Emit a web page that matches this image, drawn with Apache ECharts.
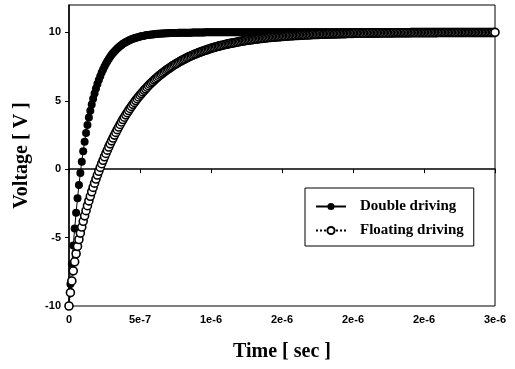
<!DOCTYPE html>
<html>
<head>
<meta charset="utf-8">
<script src="https://cdn.jsdelivr.net/npm/echarts@6/dist/echarts.min.js"></script>
<style>
  html, body { margin: 0; padding: 0; background: #fff; }
  #chart { width: 515px; height: 369px; }
</style>
</head>
<body>
<div id="chart"></div>
<script>
// sample times in ns (converted to seconds below)
const sampleTimeNs = [
  0, 10, 20, 30, 40, 50, 60, 70, 80, 90, 100, 110, 120, 130, 140, 150, 160, 170, 180, 190,
  200, 210, 220, 230, 240, 250, 260, 270, 280, 290, 300, 310, 320, 330, 340, 350, 360, 370, 380, 390,
  400, 410, 420, 430, 440, 450, 460, 470, 480, 490, 500, 510, 520, 530, 540, 550, 560, 570, 580, 590,
  600, 610, 620, 630, 640, 650, 660, 670, 680, 690, 700, 710, 720, 730, 740, 750, 760, 770, 780, 790,
  800, 810, 820, 830, 840, 850, 860, 870, 880, 890, 900, 910, 920, 930, 940, 950, 960, 970, 980, 990,
  1000, 1010, 1020, 1030, 1040, 1050, 1060, 1070, 1080, 1090, 1100, 1110, 1120, 1130, 1140, 1150, 1160, 1170, 1180, 1190,
  1200, 1210, 1220, 1230, 1240, 1250, 1260, 1270, 1280, 1290, 1300, 1310, 1320, 1330, 1340, 1350, 1360, 1370, 1380, 1390,
  1400, 1410, 1420, 1430, 1440, 1450, 1460, 1470, 1480, 1490, 1500, 1510, 1520, 1530, 1540, 1550, 1560, 1570, 1580, 1590,
  1600, 1610, 1620, 1630, 1640, 1650, 1660, 1670, 1680, 1690, 1700, 1710, 1720, 1730, 1740, 1750, 1760, 1770, 1780, 1790,
  1800, 1810, 1820, 1830, 1840, 1850, 1860, 1870, 1880, 1890, 1900, 1910, 1920, 1930, 1940, 1950, 1960, 1970, 1980, 1990,
  2000, 2010, 2020, 2030, 2040, 2050, 2060, 2070, 2080, 2090, 2100, 2110, 2120, 2130, 2140, 2150, 2160, 2170, 2180, 2190,
  2200, 2210, 2220, 2230, 2240, 2250, 2260, 2270, 2280, 2290, 2300, 2310, 2320, 2330, 2340, 2350, 2360, 2370, 2380, 2390,
  2400, 2410, 2420, 2430, 2440, 2450, 2460, 2470, 2480, 2490, 2500, 2510, 2520, 2530, 2540, 2550, 2560, 2570, 2580, 2590,
  2600, 2610, 2620, 2630, 2640, 2650, 2660, 2670, 2680, 2690, 2700, 2710, 2720, 2730, 2740, 2750, 2760, 2770, 2780, 2790,
  2800, 2810, 2820, 2830, 2840, 2850, 2860, 2870, 2880, 2890, 2900, 2910, 2920, 2930, 2940, 2950, 2960, 2970, 2980, 2990,
  3000
];

// Voltage [V], one value per sample time
const doubleDriving = [
  -10, -8.40, -6.93, -5.58, -4.33, -3.18, -2.13, -1.16, -0.27, 0.55, 1.31, 2.00,
  2.64, 3.23, 3.77, 4.27, 4.73, 5.15, 5.54, 5.89, 6.22, 6.52, 6.80, 7.06,
  7.29, 7.51, 7.71, 7.89, 8.06, 8.22, 8.36, 8.49, 8.61, 8.72, 8.82, 8.92,
  9.00, 9.08, 9.16, 9.22, 9.29, 9.34, 9.40, 9.44, 9.49, 9.53, 9.57, 9.60,
  9.63, 9.66, 9.69, 9.71, 9.74, 9.76, 9.78, 9.80, 9.81, 9.83, 9.84, 9.85,
  9.87, 9.88, 9.89, 9.90, 9.90, 9.91, 9.92, 9.92, 9.93, 9.94, 9.94, 9.95,
  9.95, 9.95, 9.96, 9.96, 9.96, 9.97, 9.97, 9.97, 9.97, 9.98, 9.98, 9.98,
  9.98, 9.98, 9.98, 9.99, 9.99, 9.99, 9.99, 9.99, 9.99, 9.99, 9.99, 9.99,
  10, 10, 10, 10, 10, 10, 10, 10, 10, 10, 10, 10, 10, 10, 10, 10, 10, 10, 10, 10,
  10, 10, 10, 10, 10, 10, 10, 10, 10, 10, 10, 10, 10, 10, 10, 10, 10, 10, 10, 10,
  10, 10, 10, 10, 10, 10, 10, 10, 10, 10, 10, 10, 10, 10, 10, 10, 10, 10, 10, 10,
  10, 10, 10, 10, 10, 10, 10, 10, 10, 10, 10, 10, 10, 10, 10, 10, 10, 10, 10, 10,
  10, 10, 10, 10, 10, 10, 10, 10, 10, 10, 10, 10, 10, 10, 10, 10, 10, 10, 10, 10,
  10, 10, 10, 10, 10, 10, 10, 10, 10, 10, 10, 10, 10, 10, 10, 10, 10, 10, 10, 10,
  10, 10, 10, 10, 10, 10, 10, 10, 10, 10, 10, 10, 10, 10, 10, 10, 10, 10, 10, 10,
  10, 10, 10, 10, 10, 10, 10, 10, 10, 10, 10, 10, 10, 10, 10, 10, 10, 10, 10, 10,
  10, 10, 10, 10, 10, 10, 10, 10, 10, 10, 10, 10, 10, 10, 10, 10, 10, 10, 10, 10,
  10, 10, 10, 10, 10, 10, 10, 10, 10, 10, 10, 10, 10, 10, 10, 10, 10, 10, 10, 10,
  10, 10, 10, 10, 10
];

const floatingDriving = [
  -10, -9.02, -8.17, -7.43, -6.77, -6.18, -5.64, -5.14, -4.67, -4.23,
  -3.81, -3.41, -3.03, -2.67, -2.32, -1.98, -1.65, -1.33, -1.02, -0.72,
  -0.43, -0.15, 0.13, 0.40, 0.65, 0.91, 1.15, 1.39, 1.62, 1.85,
  2.07, 2.28, 2.49, 2.69, 2.89, 3.08, 3.27, 3.45, 3.63, 3.80,
  3.97, 4.13, 4.29, 4.44, 4.59, 4.74, 4.88, 5.02, 5.15, 5.28,
  5.41, 5.53, 5.65, 5.77, 5.88, 5.99, 6.10, 6.21, 6.31, 6.41,
  6.51, 6.60, 6.69, 6.78, 6.87, 6.95, 7.03, 7.11, 7.19, 7.27,
  7.34, 7.41, 7.48, 7.55, 7.62, 7.68, 7.74, 7.80, 7.86, 7.92,
  7.98, 8.03, 8.08, 8.14, 8.19, 8.24, 8.28, 8.33, 8.37, 8.42,
  8.46, 8.50, 8.54, 8.58, 8.62, 8.66, 8.69, 8.73, 8.76, 8.80,
  8.83, 8.86, 8.89, 8.92, 8.95, 8.98, 9.01, 9.03, 9.06, 9.08,
  9.11, 9.13, 9.16, 9.18, 9.20, 9.22, 9.24, 9.26, 9.28, 9.30,
  9.32, 9.34, 9.36, 9.38, 9.39, 9.41, 9.42, 9.44, 9.46, 9.47,
  9.48, 9.50, 9.51, 9.52, 9.54, 9.55, 9.56, 9.57, 9.59, 9.60,
  9.61, 9.62, 9.63, 9.64, 9.65, 9.66, 9.67, 9.68, 9.68, 9.69,
  9.70, 9.71, 9.72, 9.72, 9.73, 9.74, 9.75, 9.75, 9.76, 9.77,
  9.77, 9.78, 9.78, 9.79, 9.80, 9.80, 9.81, 9.81, 9.82, 9.82,
  9.83, 9.83, 9.84, 9.84, 9.84, 9.85, 9.85, 9.86, 9.86, 9.86,
  9.87, 9.87, 9.88, 9.88, 9.88, 9.89, 9.89, 9.89, 9.89, 9.90,
  9.90, 9.90, 9.91, 9.91, 9.91, 9.91, 9.92, 9.92, 9.92, 9.92,
  9.92, 9.93, 9.93, 9.93, 9.93, 9.93, 9.94, 9.94, 9.94, 9.94,
  9.94, 9.94, 9.95, 9.95, 9.95, 9.95, 9.95, 9.95, 9.95, 9.95,
  9.96, 9.96, 9.96, 9.96, 9.96, 9.96, 9.96, 9.96, 9.96, 9.97,
  9.97, 9.97, 9.97, 9.97, 9.97, 9.97, 9.97, 9.97, 9.97, 9.97,
  9.97, 9.98, 9.98, 9.98, 9.98, 9.98, 9.98, 9.98, 9.98, 9.98,
  9.98, 9.98, 9.98, 9.98, 9.98, 9.98, 9.98, 9.98, 9.98, 9.98,
  9.99, 9.99, 9.99, 9.99, 9.99, 9.99, 9.99, 9.99, 9.99, 9.99,
  9.99, 9.99, 9.99, 9.99, 9.99, 9.99, 9.99, 9.99, 9.99, 9.99,
  9.99, 9.99, 9.99, 9.99, 9.99, 9.99, 9.99, 9.99, 9.99, 9.99,
  9.99, 9.99, 9.99, 9.99, 9.99, 9.99, 9.99, 9.99, 9.99, 9.99,
  10
];

// the original axis rounds 1.5e-6 and 2.5e-6 to "2e-6"
const xTickLabels = ['0', '5e-7', '1e-6', '2e-6', '2e-6', '2e-6', '3e-6'];
const xTickStep = 5e-7;

const toPairs = (values) => values.map((v, i) => [sampleTimeNs[i] * 1e-9, v]);

const chart = echarts.init(document.getElementById('chart'), null, { renderer: 'canvas' });

const tickFont = {
  color: '#000',
  fontFamily: '"Liberation Sans", Arial, sans-serif',
  fontWeight: 'bold',
  fontSize: 11
};
const nameFont = {
  color: '#000',
  fontFamily: '"Liberation Serif", "Times New Roman", serif',
  fontWeight: 'bold',
  fontSize: 20
};

const option = {
  backgroundColor: '#fff',
  animation: false,
  grid: {
    left: 69,
    right: 20,
    top: 5,
    bottom: 63,
    show: true,
    borderColor: '#000',
    borderWidth: 1,
    containLabel: false
  },
  legend: {
    orient: 'vertical',
    left: 305,
    top: 188,
    padding: [11, 10, 8, 10],
    itemGap: 9,
    itemWidth: 30,
    itemHeight: 9,
    backgroundColor: '#fff',
    borderColor: '#000',
    borderWidth: 1,
    textStyle: {
      color: '#000',
      fontFamily: '"Liberation Serif", "Times New Roman", serif',
      fontWeight: 'bold',
      fontSize: 15,
      padding: [0, 0, 0, 9]
    },
    data: ['Double driving', 'Floating driving']
  },
  xAxis: {
    type: 'value',
    min: 0,
    max: 3e-6,
    interval: xTickStep,
    name: 'Time [ sec ]',
    nameLocation: 'middle',
    nameGap: 36,
    nameTextStyle: nameFont,
    axisLine: { lineStyle: { color: '#000', width: 1.5 } },
    axisTick: { length: 4, lineStyle: { color: '#000' } },
    axisLabel: Object.assign({
      margin: 8,
      formatter: (v) => xTickLabels[Math.round(v / xTickStep)]
    }, tickFont),
    splitLine: { show: false }
  },
  yAxis: {
    type: 'value',
    min: -10,
    max: 12,
    interval: 5,
    name: 'Voltage [ V ]',
    nameLocation: 'middle',
    nameGap: 37,
    nameTextStyle: nameFont,
    axisLine: { lineStyle: { color: '#000', width: 1.5 } },
    axisTick: { length: 4, lineStyle: { color: '#000' } },
    axisLabel: Object.assign({ margin: 8, showMaxLabel: false }, tickFont),
    splitLine: { show: false }
  },
  series: [
    {
      name: 'Double driving',
      type: 'line',
      data: toPairs(doubleDriving),
      symbol: 'circle',
      symbolSize: 8,
      itemStyle: { color: '#000' },
      lineStyle: { color: '#000', width: 1 }
    },
    {
      name: 'Floating driving',
      type: 'line',
      data: toPairs(floatingDriving),
      symbol: 'circle',
      symbolSize: 8,
      itemStyle: { color: '#fff', borderColor: '#000', borderWidth: 1.6 },
      lineStyle: { color: '#000', width: 1, type: 'dotted' }
    }
  ]
};

chart.setOption(option);
</script>
</body>
</html>
